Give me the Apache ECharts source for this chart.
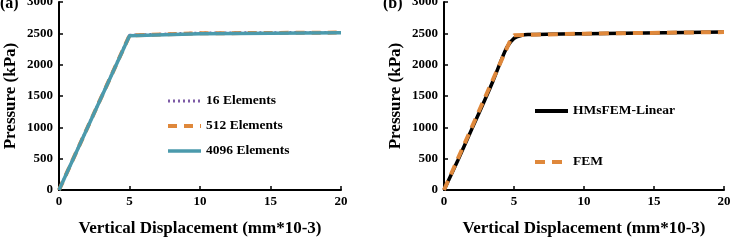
<!DOCTYPE html>
<html>
<head>
<meta charset="utf-8">
<script src="https://cdn.jsdelivr.net/npm/echarts@6/dist/echarts.min.js"></script>
<style>
  html, body { margin: 0; padding: 0; background: #fff; }
  #chart { width: 733px; height: 240px; }
</style>
</head>
<body>
<div id="chart"></div>
<script>
// panel (a): mesh convergence
var elem16 = [[0, 0], [5, 2470], [10, 2505], [20, 2515]];
var elem512 = [[0, 0], [5, 2465], [10, 2500], [20, 2512]];
var elem4096 = [[0, 0], [5, 2460], [10, 2495], [20, 2510]];
// panel (b): HMsFEM vs FEM
var hmsfem = [[0, 0], [1, 480], [2, 980], [3, 1480], [3.5, 1740], [4, 2020], [4.5, 2280], [5, 2420], [5.5, 2465], [6, 2480], [10, 2495], [20, 2520]];
var fem = [[0, 0], [4.8, 2420], [5, 2470], [10, 2495], [20, 2520]];

var xTicks = { min: 0, max: 20, interval: 5 };
var yTicks = { min: 0, max: 3000, interval: 500 };

var font = '"Liberation Serif", "DejaVu Serif", serif';
var teal = '#4b9aac', orange = '#df883b', purple = '#7d5ba6';

var myChart = echarts.init(document.getElementById('chart'));

function xAxis(idx) {
    return {
        gridIndex: idx, type: 'value', min: xTicks.min, max: xTicks.max, interval: xTicks.interval,
        name: 'Vertical Displacement (mm*10-3)', nameLocation: 'middle', nameGap: 30,
        nameTextStyle: { fontFamily: font, fontWeight: 'bold', fontSize: 17, color: '#000' },
        axisLine: { lineStyle: { color: '#000', width: 2 } },
        axisTick: { inside: true, length: 4, lineStyle: { color: '#000', width: 1.5 } },
        axisLabel: { fontFamily: font, fontWeight: 'bold', fontSize: 13, color: '#000', margin: 5 },
        splitLine: { show: false }
    };
}
function yAxis(idx) {
    return {
        gridIndex: idx, type: 'value', min: yTicks.min, max: yTicks.max, interval: yTicks.interval,
        name: 'Pressure (kPa)', nameLocation: 'middle', nameGap: 40,
        nameTextStyle: { fontFamily: font, fontWeight: 'bold', fontSize: 17, color: '#000' },
        axisLine: { show: true, lineStyle: { color: '#000', width: 2 } },
        axisTick: { show: true, inside: true, length: 4, lineStyle: { color: '#000', width: 1.5 } },
        axisLabel: { fontFamily: font, fontWeight: 'bold', fontSize: 13, color: '#000', margin: 6,
            formatter: function (v) { return String(v); } },
        splitLine: { show: false }
    };
}
var legendText = { fontFamily: font, fontWeight: 'bold', fontSize: 13.5, color: '#000' };

var option = {
    animation: false,
    backgroundColor: '#fff',
    graphic: [
        { type: 'text', left: 0, top: -4, style: { text: '(a)', font: 'bold 16px ' + font, fill: '#000' } },
        { type: 'text', left: 383, top: -4, style: { text: '(b)', font: 'bold 16px ' + font, fill: '#000' } }
    ],
    grid: [
        { left: 59, right: 392, top: 2, bottom: 50, outerBoundsMode: 'none' },
        { left: 444, right: 9, top: 2, bottom: 50, outerBoundsMode: 'none' }
    ],
    legend: [
        {
            data: [
                { name: '16 Elements', lineStyle: { width: 3, type: [2, 3] } },
                { name: '512 Elements', lineStyle: { width: 4, type: [9, 7] } },
                { name: '4096 Elements', lineStyle: { width: 3.5 } }
            ],
            orient: 'vertical', left: 161, top: 89, itemWidth: 33, itemHeight: 14, itemGap: 11,
            itemStyle: { opacity: 0 }, textStyle: legendText
        },
        {
            data: [
                { name: 'HMsFEM-Linear', lineStyle: { width: 4 } },
                { name: 'FEM', lineStyle: { width: 4, type: [10, 7] } }
            ],
            orient: 'vertical', left: 528, top: 99, itemWidth: 33, itemHeight: 14, itemGap: 37,
            itemStyle: { opacity: 0 }, textStyle: legendText
        }
    ],
    xAxis: [xAxis(0), xAxis(1)],
    yAxis: [yAxis(0), yAxis(1)],
    series: [
        { name: '16 Elements', type: 'line', xAxisIndex: 0, yAxisIndex: 0, data: elem16, symbol: 'none',
          lineStyle: { color: purple, width: 3, type: [2, 3] }, itemStyle: { color: purple } },
        { name: '512 Elements', type: 'line', xAxisIndex: 0, yAxisIndex: 0, data: elem512, symbol: 'none',
          lineStyle: { color: orange, width: 4, type: [9, 7] }, itemStyle: { color: orange } },
        { name: '4096 Elements', type: 'line', xAxisIndex: 0, yAxisIndex: 0, data: elem4096, symbol: 'none',
          lineStyle: { color: teal, width: 3.5 }, itemStyle: { color: teal } },
        { name: 'HMsFEM-Linear', type: 'line', xAxisIndex: 1, yAxisIndex: 1, data: hmsfem, symbol: 'none', smooth: 0.3,
          lineStyle: { color: '#000', width: 3.5 }, itemStyle: { color: '#000' } },
        { name: 'FEM', type: 'line', xAxisIndex: 1, yAxisIndex: 1, data: fem, symbol: 'none',
          lineStyle: { color: orange, width: 4, type: [10, 7] }, itemStyle: { color: orange } }
    ]
};
myChart.setOption(option);
</script>
</body>
</html>
